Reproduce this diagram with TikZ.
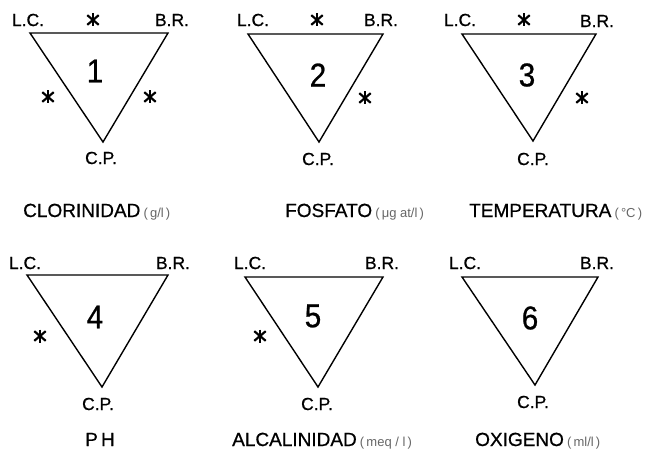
\documentclass[tikz,border=0pt]{standalone}
\usepackage{fontspec}
\setmainfont{Liberation Sans}[FakeBold=0.7]
\newfontfamily\unitfont{Liberation Sans}
\newcommand\unitx[1]{{\unitfont\fontsize{13}{13}\selectfont\color{black!60}#1}}
\begin{document}
\begin{tikzpicture}[x=1pt,y=-1pt,
  tri/.style={line width=1.4pt, line join=miter},
  corner/.style={font=\fontsize{17.5}{17.5}\selectfont, inner sep=0pt},
  num/.style={font=\fontsize{33}{33}\selectfont, inner sep=0pt, xscale=0.9},
  captxt/.style={font=\fontsize{19}{19}\selectfont, inner sep=0pt, anchor=base west},
  ast/.style={minimum size=18pt, inner sep=0pt,
    path picture={
      \draw[line width=2.4pt] ([shift={(90:6.5pt)}]path picture bounding box.center) -- ([shift={(270:6.5pt)}]path picture bounding box.center);
      \draw[line width=2.2pt] ([shift={(40:7.5pt)}]path picture bounding box.center) -- ([shift={(220:7.5pt)}]path picture bounding box.center);
      \draw[line width=2.2pt] ([shift={(140:7.5pt)}]path picture bounding box.center) -- ([shift={(320:7.5pt)}]path picture bounding box.center);
    }}]
\useasboundingbox (0,0) rectangle (654,452);

% ---------- 1 ----------
\coordinate (a1) at (30,33); \coordinate (b1) at (168,33); \coordinate (p1) at (103,142);
\draw[tri] (a1) -- (b1) -- (p1) -- cycle;
\node[corner] (lc1) at (28,20) {L.C.};
\node[corner] (br1) at (172,20) {B.R.};
\node[corner] (cp1) at (101,158) {C.P.};
\node[num] (n1) at (95,71) {1};
\node[ast] (s1t) at (93,20) {};
\node[ast] (s1l) at (48,97) {};
\node[ast] (s1r) at (150,97) {};
\node[captxt] (c1) at (23,217) {CLORINIDAD\,\unitx{(\,g/l\,)}};

% ---------- 2 ----------
\coordinate (a2) at (248,34); \coordinate (b2) at (383,34); \coordinate (p2) at (319,142);
\draw[tri] (a2) -- (b2) -- (p2) -- cycle;
\node[corner] (lc2) at (253,20) {L.C.};
\node[corner] (br2) at (381,20) {B.R.};
\node[corner] (cp2) at (318,159) {C.P.};
\node[num] (n2) at (318,75) {2};
\node[ast] (s2t) at (317,20) {};
\node[ast] (s2r) at (365,98) {};
\node[captxt] (c2) at (285,217) {FOSFATO\,\unitx{(\,μg at/l\,)}};

% ---------- 3 ----------
\coordinate (a3) at (462,34); \coordinate (b3) at (596,34); \coordinate (p3) at (533,141);
\draw[tri] (a3) -- (b3) -- (p3) -- cycle;
\node[corner] (lc3) at (460,20) {L.C.};
\node[corner] (br3) at (597,21) {B.R.};
\node[corner] (cp3) at (533,159) {C.P.};
\node[num] (n3) at (527,75) {3};
\node[ast] (s3t) at (524,20) {};
\node[ast] (s3r) at (582,98) {};
\node[captxt] (c3) at (469,217) {TEMPERATURA\,\unitx{(\,°C\,)}};

% ---------- 4 ----------
\coordinate (a4) at (27,275); \coordinate (b4) at (168,275); \coordinate (p4) at (102,387);
\draw[tri] (a4) -- (b4) -- (p4) -- cycle;
\node[corner] (lc4) at (25,263) {L.C.};
\node[corner] (br4) at (173,263) {B.R.};
\node[corner] (cp4) at (98,404) {C.P.};
\node[num] (n4) at (95,317) {4};
\node[ast] (s4l) at (40,336) {};
\node[captxt] (c4) at (85,446) {P\,H};

% ---------- 5 ----------
\coordinate (a5) at (245,277); \coordinate (b5) at (383,277); \coordinate (p5) at (318,387);
\draw[tri] (a5) -- (b5) -- (p5) -- cycle;
\node[corner] (lc5) at (250,263) {L.C.};
\node[corner] (br5) at (382,263) {B.R.};
\node[corner] (cp5) at (317,404) {C.P.};
\node[num] (n5) at (313,316) {5};
\node[ast] (s5l) at (260,336) {};
\node[captxt] (c5) at (232,446) {ALCALINIDAD\,\unitx{(\,meq / l\,)}};

% ---------- 6 ----------
\coordinate (a6) at (462,277); \coordinate (b6) at (598,277); \coordinate (p6) at (535,385);
\draw[tri] (a6) -- (b6) -- (p6) -- cycle;
\node[corner] (lc6) at (465,263) {L.C.};
\node[corner] (br6) at (597,263) {B.R.};
\node[corner] (cp6) at (533,402) {C.P.};
\node[num] (n6) at (530,318) {6};
\node[captxt] (c6) at (475,446) {OXIGENO\,\unitx{(\,ml/l\,)}};
\end{tikzpicture}
\end{document}
